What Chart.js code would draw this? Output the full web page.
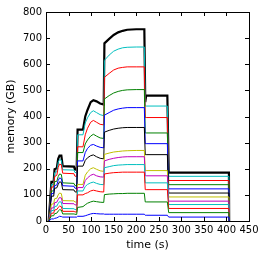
<!DOCTYPE html>
<html><head><meta charset="utf-8">
<script src="https://cdn.jsdelivr.net/npm/chart.js@4/dist/chart.umd.min.js"></script>
<style>html,body{margin:0;padding:0;background:#fff;}#wrap{width:266px;height:257px;}</style>
</head><body><div id="wrap"><canvas id="c" width="266" height="257"></canvas></div>
<script>
const times = [6,12,17,19,24,27,30,34,37,62,64,68,70,82,87,92,99,105,112,120,128,129.5,140,150,160,170,180,200,218,220,222,269,272,405.5,406];
const s1  = [0,8,8,10,12,15,18,17,15,15,15,15,18,18,20,23,27,29,28,27,27,26,26,26,26,26,26,26,26,22,22,22,15,15,0];
const s2  = [0,20,20,28,30,38,43,42,27,27,26,25,52,55,62,68,73,76,74,72,71,101,103,104,105,105,106,106,106,73,73,73,32,32,0];
const s3  = [0,30,30,42,44,52,57,55,37,37,35,34,100,100,105,108,115,118,115,112,111,180,183,185,186,187,187,187,187,120,120,120,48,48,0];
const s4  = [0,40,40,55,57,67,74,72,48,47,44,43,115,115,132,140,146,149,144,140,139,204,208,212,214,215,216,216,216,146,146,146,63,63,0];
const s5  = [0,50,50,70,72,82,90,88,67,66,62,61,128,128,155,165,175,179,173,169,168,230,236,240,243,245,246,246,246,173,173,173,76,76,0];
const s6  = [0,65,65,85,87,100,107,105,78,77,73,72,140,140,175,188,200,204,198,192,190,255,260,264,266,268,269,270,270,193,193,193,92,92,0];
const s7  = [0,95,95,125,127,140,150,148,120,119,112,110,210,210,232,242,250,253,246,240,238,340,347,352,355,357,358,358,358,254,254,254,107,107,0];
const s8  = [0,105,105,135,138,155,165,162,135,133,126,124,230,230,262,278,290,293,287,282,280,405,415,424,429,432,434,434,434,296,296,296,123,123,0];
const s9  = [0,115,115,150,152,170,180,178,146,144,136,134,262,262,295,310,325,332,325,318,316,467,480,490,496,500,502,503,503,337,337,337,139,139,0];
const s10 = [0,130,130,170,175,205,218,215,183,181,172,170,284,284,330,355,378,385,378,370,368,550,565,578,585,588,590,590,590,396,396,396,155,155,0];
const s11 = [0,140,140,185,188,225,235,233,196,195,186,185,330,330,375,395,415,422,415,407,403,615,635,650,658,663,665,666,666,440,440,440,171,171,0];
const total = [0,150,150,198,202,238,250,250,210,208,198,196,350,350,400,425,455,462,458,450,446,680,697,712,722,728,732,734,734,455,480,480,185,185,0];
const xTicks = [0,50,100,150,200,250,300,350,400,450];
const yTicks = [0,100,200,300,400,500,600,700,800];

const series = [s1,s2,s3,s4,s5,s6,s7,s8,s9,s10,s11];
const cycle = ['#0000ff','#008000','#ff0000','#00bfbf','#bf00bf','#bfbf00','#000000'];
const toPts = arr => arr.map((v,i)=>({x:times[i], y:v}));
const datasets = series.map((s,i)=>({data:toPts(s), borderColor:cycle[i%7], borderWidth:1, pointRadius:0, tension:0, fill:false}));
datasets.push({data:toPts(total), borderColor:'#000000', borderWidth:2.2, pointRadius:0, tension:0, fill:false});

const frame = {
  id:'frame',
  afterDraw(chart){
    const {ctx, chartArea:a, scales:{x,y}} = chart;
    ctx.save();
    ctx.strokeStyle='#000'; ctx.lineWidth=1;
    ctx.beginPath();
    const L=4;
    x.ticks.forEach(t=>{const px=Math.round(x.getPixelForValue(t.value))+0.5;
      ctx.moveTo(px,a.bottom); ctx.lineTo(px,a.bottom-L);
      ctx.moveTo(px,a.top); ctx.lineTo(px,a.top+L);});
    y.ticks.forEach(t=>{const py=Math.round(y.getPixelForValue(t.value))+0.5;
      ctx.moveTo(a.left,py); ctx.lineTo(a.left+L,py);
      ctx.moveTo(a.right,py); ctx.lineTo(a.right-L,py);});
    ctx.stroke();
    ctx.strokeRect(Math.round(a.left)+0.5, Math.round(a.top)+0.5, Math.round(a.right-a.left), Math.round(a.bottom-a.top));
    ctx.restore();
  }
};

new Chart(document.getElementById('c'), {
  type:'line',
  data:{datasets},
  options:{
    responsive:false, animation:false, events:[],
    layout:{padding:{left:0,right:17,top:12,bottom:0}},
    plugins:{legend:{display:false}, tooltip:{enabled:false}},
    scales:{
      x:{type:'linear', min:0, max:450,
        afterBuildTicks:s=>{s.ticks=xTicks.map(v=>({value:v}));},
        afterFit:s=>{s.height=36;},
        grid:{display:false, drawTicks:false}, border:{display:false},
        ticks:{padding:3, color:'#000', font:{family:'DejaVu Sans', size:10}, maxRotation:0, autoSkip:false},
        title:{display:true, text:'time (s)', color:'#000', font:{family:'DejaVu Sans', size:11}, padding:{top:0,bottom:5}}
      },
      y:{type:'linear', min:0, max:800,
        afterBuildTicks:s=>{s.ticks=yTicks.map(v=>({value:v}));},
        afterFit:s=>{s.width=46;},
        grid:{display:false, drawTicks:false}, border:{display:false},
        ticks:{padding:4, color:'#000', font:{family:'DejaVu Sans', size:10}},
        title:{display:true, text:'memory (GB)', color:'#000', font:{family:'DejaVu Sans', size:11}, padding:{top:5,bottom:0}}
      }
    }
  },
  plugins:[frame]
});
</script></body></html>
